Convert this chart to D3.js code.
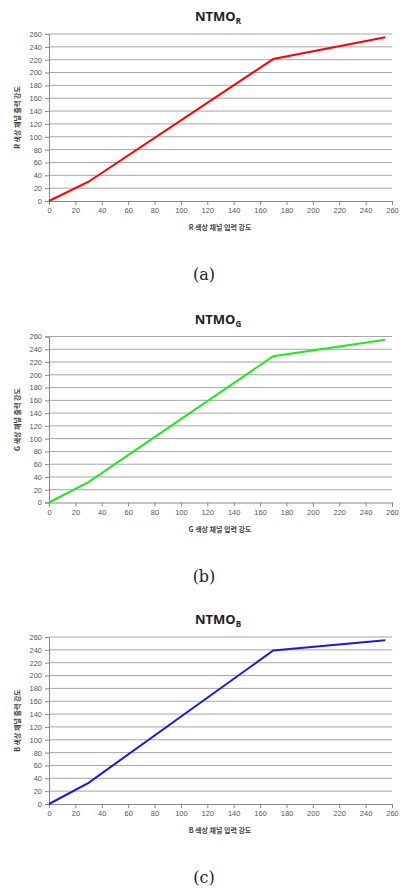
<!DOCTYPE html>
<html>
<head>
<meta charset="utf-8">
<script src="https://cdn.jsdelivr.net/npm/d3@7"></script>
<style>
  body { margin: 0; background: #fff; }
  svg { display: block; }
</style>
</head>
<body>
<svg id="chart" width="402" height="889"></svg>
<script>
// input intensities (shared x) and output curves per channel
const inputX = [0, 30, 170, 255];
const outR = [0, 30, 221, 255];
const outG = [0, 32, 229, 255];
const outB = [0, 33, 239, 255];
const ticks = d3.range(0, 261, 20);

const panels = [
  { ch: 'R', values: outR, color: '#ff0000', top: 34, bottom: 201, label: '(a)' },
  { ch: 'G', values: outG, color: '#1ee81e', top: 336.5, bottom: 502.5, label: '(b)' },
  { ch: 'B', values: outB, color: '#1a1adc', top: 637, bottom: 804, label: '(c)' }
];

const svg = d3.select('#chart');
const left = 49, right = 392;

panels.forEach(p => {
  const g = svg.append('g');
  const x = d3.scaleLinear().domain([0, 260]).range([left, right]);
  const y = d3.scaleLinear().domain([0, 260]).range([p.bottom, p.top]);

  // title
  const t = g.append('text')
    .attr('x', 218).attr('y', p.top - 13)
    .attr('text-anchor', 'middle')
    .style('font-family', 'Open Sans, Liberation Sans, sans-serif')
    .style('font-weight', 'bold').style('font-size', '13px').attr('fill', '#222');
  t.append('tspan').text('NTMO');
  t.append('tspan').text(p.ch).attr('dy', 3).style('font-size', '8px');

  // grid
  g.append('g').selectAll('line').data(ticks.slice(1)).join('line')
    .attr('x1', left).attr('x2', right)
    .attr('y1', d => y(d)).attr('y2', d => y(d))
    .attr('stroke', '#a6a6a6').attr('stroke-width', 1);

  // y axis
  const ya = g.append('g').attr('transform', `translate(${left},0)`)
    .call(d3.axisLeft(y).tickValues(ticks).tickSize(4).tickPadding(3));
  // x axis
  const xa = g.append('g').attr('transform', `translate(0,${p.bottom})`)
    .call(d3.axisBottom(x).tickValues(ticks).tickSize(4).tickPadding(3));
  [ya, xa].forEach(a => {
    a.select('.domain').attr('stroke', '#888');
    a.selectAll('.tick line').attr('stroke', '#888');
    a.selectAll('.tick text').attr('fill', '#555')
      .style('font-family', 'Liberation Sans, Arial, sans-serif').style('font-size', '7.5px');
  });

  // curve
  const line = d3.line().x((d, i) => x(inputX[i])).y(d => y(d));
  g.append('path').datum(p.values)
    .attr('d', line).attr('fill', 'none')
    .attr('stroke', p.color).attr('stroke-width', 2);

  // axis titles
  g.append('text')
    .attr('x', 220).attr('y', p.bottom + 29)
    .attr('text-anchor', 'middle')
    .style('font-family', 'Noto Sans CJK KR, sans-serif')
    .style('font-weight', 'bold').style('font-size', '7px').attr('fill', '#444')
    .text(`${p.ch} 색상 채널 입력 강도`);
  g.append('text')
    .attr('transform', `translate(20,${(p.top + p.bottom) / 2}) rotate(-90)`)
    .attr('text-anchor', 'middle')
    .style('font-family', 'Noto Sans CJK KR, sans-serif')
    .style('font-weight', 'bold').style('font-size', '7px').attr('fill', '#444')
    .text(`${p.ch} 색상 채널 출력 강도`);

  // panel label
  g.append('text')
    .attr('x', 204).attr('y', p.bottom + 79)
    .attr('text-anchor', 'middle')
    .style('font-family', 'DejaVu Serif, serif')
    .style('font-size', '16px').attr('fill', '#222')
    .text(p.label);
});
</script>
</body>
</html>
